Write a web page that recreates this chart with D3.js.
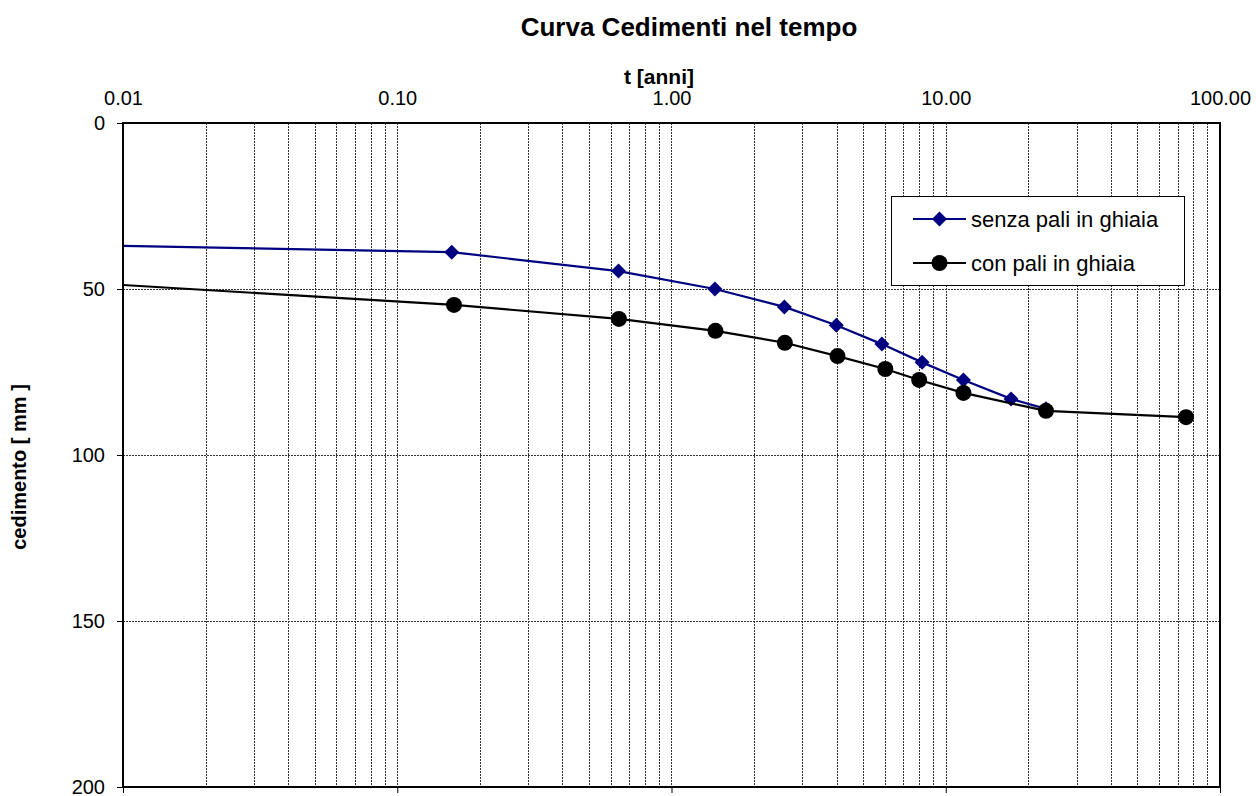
<!DOCTYPE html>
<html>
<head>
<meta charset="utf-8">
<script src="https://cdn.jsdelivr.net/npm/d3@7"></script>
<style>
  body { margin: 0; background: #fff; }
  svg { display: block; font-family: "Liberation Sans", Arial, sans-serif; }
</style>
</head>
<body>
<svg id="chart" width="1256" height="796"></svg>
<script>
// Settlement over time, with and without gravel piles
const tSenza = [0.005, 0.158, 0.641, 1.44, 2.58, 3.99, 5.85, 8.2, 11.6, 17.3, 23.2];
const cSenza = [36.5, 38.9, 44.6, 50.0, 55.4, 60.9, 66.6, 72.1, 77.4, 83.1, 86.1];
const tCon = [0.005, 0.161, 0.643, 1.446, 2.59, 4.03, 6.02, 8.0, 11.6, 23.2, 75.2];
const cCon = [47.3, 54.8, 59.0, 62.6, 66.2, 70.2, 74.1, 77.4, 81.3, 86.7, 88.6];

const xTickLabels = ["0.01", "0.10", "1.00", "10.00", "100.00"];
const xTickValues = [0.01, 0.1, 1, 10, 100];
const yTickValues = [0, 50, 100, 150, 200];

const seriesNames = ["senza pali in ghiaia", "con pali in ghiaia"];
const seriesColors = ["#000080", "#000000"];

const svg = d3.select("#chart");
const pLeft = 123, pRight = 1220, pTop = 123, pBottom = 787;

const x = d3.scaleLog().domain([0.01, 100]).range([pLeft, pRight]);
const y = d3.scaleLinear().domain([0, 200]).range([pTop, pBottom]);

// minor gridlines on every log step
const gridX = [];
for (let d = 0.01; d < 100; d *= 10) {
  for (let k = 1; k <= 9; k++) {
    const v = +(d * k).toPrecision(3);
    if (v > 0.01 && v < 100) gridX.push(v);
  }
}

const grid = svg.append("g").attr("stroke", "#333").attr("stroke-width", 1)
  .attr("stroke-dasharray", "2,1");
grid.selectAll("line.vx").data(gridX).join("line")
  .attr("x1", d => Math.round(x(d)) + 0.5).attr("x2", d => Math.round(x(d)) + 0.5)
  .attr("y1", pTop).attr("y2", pBottom);
grid.selectAll("line.hy").data([50, 100, 150]).join("line")
  .attr("x1", pLeft).attr("x2", pRight)
  .attr("y1", d => Math.round(y(d)) + 0.5).attr("y2", d => Math.round(y(d)) + 0.5);

// clip region for the series
svg.append("clipPath").attr("id", "plotclip").append("rect")
  .attr("x", pLeft).attr("y", pTop).attr("width", pRight - pLeft).attr("height", pBottom - pTop);

const series = [
  { name: seriesNames[0], color: seriesColors[0], pts: tSenza.map((t, i) => [t, cSenza[i]]), shape: "diamond" },
  { name: seriesNames[1], color: seriesColors[1], pts: tCon.map((t, i) => [t, cCon[i]]), shape: "circle" }
];

const line = d3.line().x(d => x(d[0])).y(d => y(d[1]));
const plot = svg.append("g").attr("clip-path", "url(#plotclip)");

function drawMarker(g, shape, color, cx, cy) {
  if (shape === "diamond") {
    const s = 7.5;
    g.append("path").attr("d", `M${cx},${cy - s}L${cx + s},${cy}L${cx},${cy + s}L${cx - s},${cy}Z`)
      .attr("fill", color);
  } else {
    g.append("circle").attr("cx", cx).attr("cy", cy).attr("r", 8).attr("fill", color);
  }
}

series.forEach(s => {
  plot.append("path").datum(s.pts).attr("d", line)
    .attr("fill", "none").attr("stroke", s.color).attr("stroke-width", 2.2);
  s.pts.forEach(p => {
    if (p[0] >= 0.01) drawMarker(plot, s.shape, s.color, x(p[0]), y(p[1]));
  });
});

// frame
svg.append("rect").attr("x", pLeft).attr("y", pTop).attr("width", pRight - pLeft).attr("height", pBottom - pTop)
  .attr("fill", "none").attr("stroke", "#000").attr("stroke-width", 2);

const fontFam = "'Liberation Sans', Arial, sans-serif";

// left axis
const yAxis = d3.axisLeft(y).tickValues(yTickValues).tickFormat(d3.format("d")).tickSize(6).tickPadding(12);
const gy = svg.append("g").attr("transform", `translate(${pLeft},0)`).call(yAxis);
gy.select(".domain").remove();
gy.selectAll("line").attr("stroke", "#000").attr("stroke-width", 1);
gy.selectAll("text").attr("font-size", 20).attr("fill", "#000").attr("font-family", fontFam)
  .attr("dy", "0.3em");

// top axis labels
const xAxisTop = d3.axisTop(x).tickValues(xTickValues).tickFormat((d, i) => xTickLabels[i]).tickSize(0).tickPadding(18);
const gx = svg.append("g").attr("transform", `translate(0,${pTop})`).call(xAxisTop);
gx.select(".domain").remove();
gx.selectAll("text").attr("font-size", 20).attr("fill", "#000").attr("font-family", fontFam);

// bottom decade ticks
const xAxisBottom = d3.axisBottom(x).tickValues(xTickValues).tickFormat("").tickSize(6);
const gb = svg.append("g").attr("transform", `translate(0,${pBottom})`).call(xAxisBottom);
gb.select(".domain").remove();
gb.selectAll("line").attr("stroke", "#000");

// titles
svg.append("text").attr("x", 689).attr("y", 36).attr("text-anchor", "middle")
  .attr("font-size", 26).attr("font-weight", "bold").text("Curva Cedimenti nel tempo");
svg.append("text").attr("x", 659).attr("y", 84).attr("text-anchor", "middle")
  .attr("font-size", 21).attr("font-weight", "bold").text("t [anni]");
svg.append("text").attr("transform", "translate(26,467) rotate(-90)").attr("text-anchor", "middle")
  .attr("font-size", 20).attr("font-weight", "bold").text("cedimento [ mm ]");

// legend
const lg = svg.append("g");
lg.append("rect").attr("x", 891.5).attr("y", 196.5).attr("width", 293).attr("height", 89)
  .attr("fill", "#fff").attr("stroke", "#000").attr("stroke-width", 1);
series.forEach((s, i) => {
  const ly = 219 + i * 44;
  lg.append("line").attr("x1", 913).attr("x2", 966).attr("y1", ly).attr("y2", ly)
    .attr("stroke", s.color).attr("stroke-width", 2.2);
  drawMarker(lg, s.shape, s.color, 939.5, ly);
  lg.append("text").attr("x", 971).attr("y", ly).attr("dy", "0.35em")
    .attr("font-size", 22).attr("fill", "#000").attr("font-family", fontFam).text(s.name);
});
</script>
</body>
</html>
